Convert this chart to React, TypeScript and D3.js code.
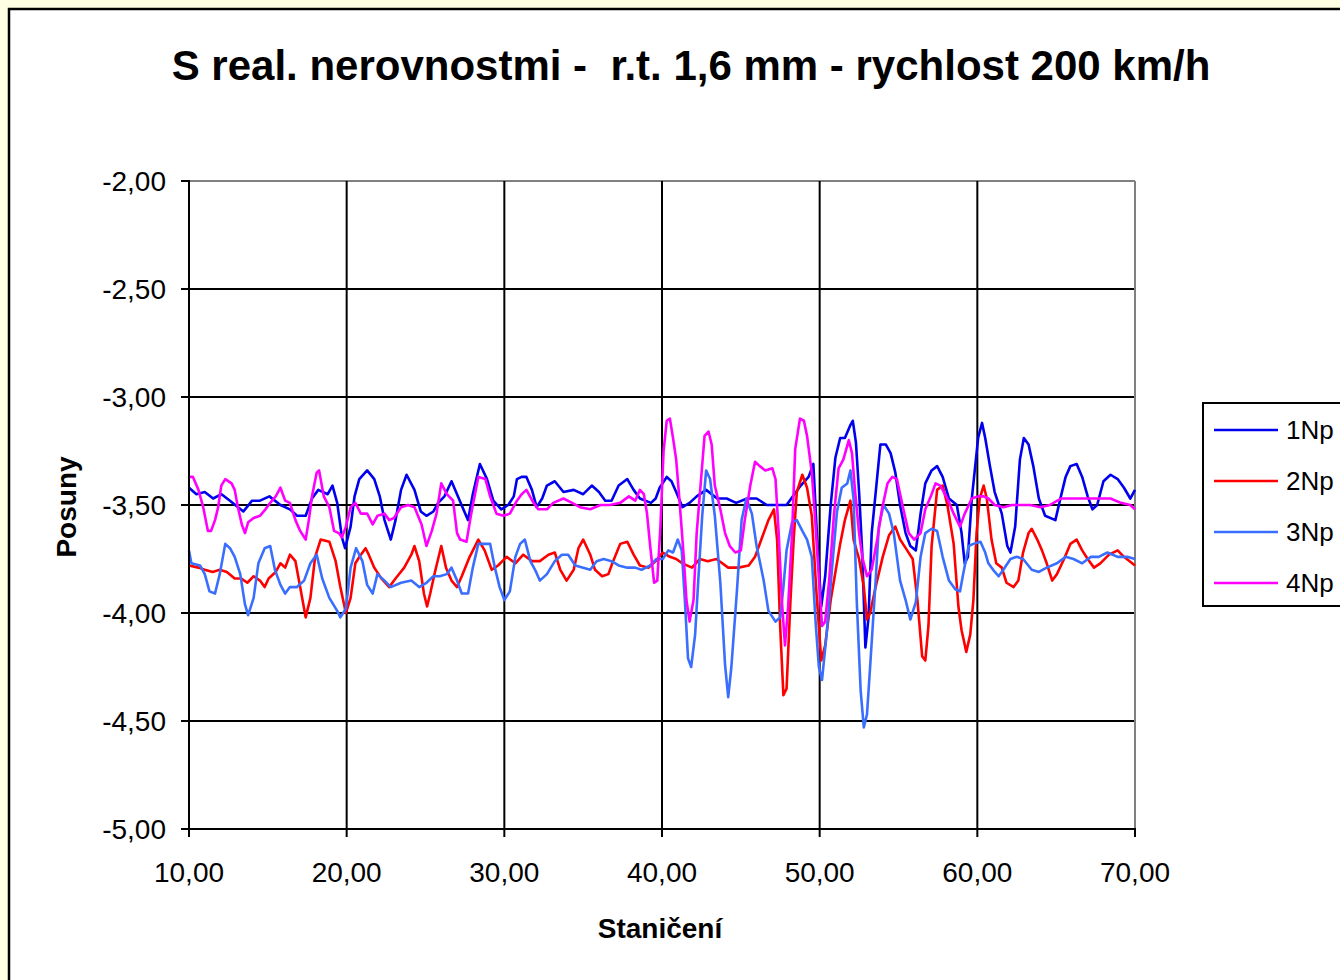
import React from "react";
import * as d3 from "d3";

const seriesNames = ["1Np", "2Np", "3Np", "4Np"];
const seriesColors = ["#0000EE", "#FF0000", "#3A6EFF", "#FF00FF"];
const xTicks = [10, 20, 30, 40, 50, 60, 70];
const yTicks = [-2, -2.5, -3, -3.5, -4, -4.5, -5];

const np1: [number, number][] = [[10,-3.42],[10.47,-3.45],[11.0,-3.44],[11.53,-3.47],[12.06,-3.45],[12.6,-3.48],[13.45,-3.53],[14.0,-3.48],[14.5,-3.48],[15.1,-3.46],[15.8,-3.50],[16.4,-3.52],[16.85,-3.55],[17.4,-3.55],[17.8,-3.47],[18.2,-3.43],[18.8,-3.45],[19.1,-3.41],[19.4,-3.49],[19.7,-3.65],[19.9,-3.70],[20.25,-3.60],[20.5,-3.46],[20.8,-3.38],[21.3,-3.34],[21.75,-3.38],[22.1,-3.46],[22.4,-3.57],[22.8,-3.66],[23.1,-3.57],[23.45,-3.43],[23.8,-3.36],[24.3,-3.43],[24.7,-3.53],[25.06,-3.55],[25.5,-3.53],[25.8,-3.49],[26.2,-3.46],[26.65,-3.39],[27.0,-3.45],[27.4,-3.52],[27.7,-3.57],[28.0,-3.45],[28.45,-3.31],[28.9,-3.38],[29.3,-3.48],[29.8,-3.52],[30.25,-3.50],[30.6,-3.46],[30.8,-3.38],[31.1,-3.37],[31.4,-3.37],[31.75,-3.43],[32.05,-3.51],[32.4,-3.47],[32.7,-3.41],[33.2,-3.39],[33.75,-3.44],[34.4,-3.43],[35.0,-3.45],[35.55,-3.41],[36.0,-3.44],[36.4,-3.48],[36.8,-3.48],[37.25,-3.41],[37.8,-3.38],[38.2,-3.43],[38.6,-3.47],[39.3,-3.49],[39.6,-3.47],[39.85,-3.42],[40.3,-3.37],[40.6,-3.39],[40.9,-3.44],[41.3,-3.51],[41.75,-3.49],[42.2,-3.46],[42.8,-3.43],[43.5,-3.47],[44.1,-3.47],[44.7,-3.49],[45.4,-3.47],[46.0,-3.47],[46.65,-3.50],[47.3,-3.50],[47.9,-3.50],[48.3,-3.46],[48.8,-3.41],[49.3,-3.37],[49.6,-3.31],[49.8,-3.60],[50.1,-3.97],[50.35,-3.83],[50.7,-3.50],[51.0,-3.28],[51.3,-3.19],[51.6,-3.19],[51.95,-3.13],[52.1,-3.11],[52.3,-3.21],[52.5,-3.44],[52.7,-3.72],[52.9,-4.16],[53.1,-4.02],[53.3,-3.63],[53.65,-3.37],[53.85,-3.22],[54.2,-3.22],[54.5,-3.26],[54.8,-3.35],[55.1,-3.50],[55.45,-3.63],[55.75,-3.69],[56.1,-3.71],[56.4,-3.54],[56.7,-3.40],[57.1,-3.34],[57.45,-3.32],[57.8,-3.37],[58.2,-3.47],[58.7,-3.50],[59.0,-3.63],[59.2,-3.77],[59.4,-3.74],[59.65,-3.47],[59.85,-3.33],[60.05,-3.19],[60.3,-3.12],[60.5,-3.19],[60.8,-3.32],[61.1,-3.44],[61.55,-3.54],[61.9,-3.69],[62.1,-3.72],[62.4,-3.60],[62.7,-3.29],[62.95,-3.19],[63.25,-3.22],[63.55,-3.32],[63.9,-3.47],[64.3,-3.55],[64.95,-3.57],[65.3,-3.46],[65.6,-3.37],[65.9,-3.32],[66.3,-3.31],[66.65,-3.37],[67.0,-3.46],[67.3,-3.52],[67.6,-3.50],[68.0,-3.39],[68.45,-3.36],[68.9,-3.38],[69.3,-3.42],[69.7,-3.47],[70.0,-3.43]];

const np2: [number, number][] = [[10,-3.78],[10.6,-3.79],[11.0,-3.80],[11.5,-3.81],[11.95,-3.80],[12.4,-3.81],[12.9,-3.84],[13.3,-3.84],[13.7,-3.86],[14.1,-3.83],[14.5,-3.85],[14.8,-3.88],[15.05,-3.84],[15.5,-3.81],[15.8,-3.77],[16.1,-3.79],[16.4,-3.73],[16.75,-3.76],[17.05,-3.88],[17.4,-4.02],[17.7,-3.93],[18.0,-3.74],[18.35,-3.66],[18.9,-3.67],[19.3,-3.76],[19.6,-3.88],[19.95,-4.00],[20.25,-3.93],[20.55,-3.77],[20.9,-3.73],[21.2,-3.70],[21.4,-3.73],[21.75,-3.79],[22.2,-3.84],[22.7,-3.88],[23.1,-3.84],[23.65,-3.79],[24.1,-3.73],[24.3,-3.69],[24.6,-3.76],[24.9,-3.91],[25.1,-3.97],[25.3,-3.91],[25.6,-3.81],[26.0,-3.69],[26.3,-3.79],[26.65,-3.85],[27.0,-3.88],[27.3,-3.83],[27.8,-3.74],[28.35,-3.66],[28.75,-3.71],[29.2,-3.80],[29.6,-3.78],[30.15,-3.74],[30.7,-3.77],[31.2,-3.73],[31.75,-3.76],[32.25,-3.76],[32.8,-3.73],[33.2,-3.72],[33.55,-3.80],[33.95,-3.85],[34.4,-3.80],[34.7,-3.70],[35.0,-3.66],[35.45,-3.73],[35.75,-3.80],[36.2,-3.83],[36.6,-3.82],[36.9,-3.76],[37.35,-3.68],[37.8,-3.67],[38.2,-3.73],[38.6,-3.78],[39.15,-3.79],[39.6,-3.76],[40.05,-3.72],[40.5,-3.74],[40.9,-3.75],[41.3,-3.77],[41.9,-3.79],[42.4,-3.75],[42.9,-3.76],[43.45,-3.75],[44.2,-3.79],[44.85,-3.79],[45.5,-3.78],[45.9,-3.74],[46.3,-3.66],[46.75,-3.57],[47.1,-3.52],[47.3,-3.66],[47.5,-4.07],[47.7,-4.38],[47.9,-4.35],[48.15,-3.94],[48.35,-3.66],[48.55,-3.44],[48.9,-3.36],[49.2,-3.42],[49.5,-3.55],[49.8,-3.91],[50.1,-4.22],[50.35,-4.15],[50.7,-3.94],[51.0,-3.81],[51.3,-3.68],[51.6,-3.57],[51.95,-3.48],[52.15,-3.66],[52.5,-3.75],[52.8,-3.88],[53.0,-4.03],[53.2,-4.00],[53.55,-3.88],[54.0,-3.74],[54.4,-3.64],[54.8,-3.60],[55.1,-3.66],[55.55,-3.71],[55.9,-3.75],[56.2,-3.94],[56.5,-4.20],[56.7,-4.22],[56.9,-4.06],[57.1,-3.69],[57.45,-3.43],[57.8,-3.41],[58.1,-3.50],[58.5,-3.68],[58.8,-3.97],[59.0,-4.08],[59.3,-4.18],[59.55,-4.10],[59.75,-3.94],[59.95,-3.63],[60.15,-3.47],[60.4,-3.41],[60.6,-3.47],[60.9,-3.66],[61.2,-3.77],[61.55,-3.79],[61.85,-3.86],[62.3,-3.88],[62.6,-3.85],[62.9,-3.72],[63.25,-3.63],[63.45,-3.61],[63.8,-3.66],[64.1,-3.71],[64.4,-3.77],[64.75,-3.85],[65.05,-3.82],[65.5,-3.75],[65.9,-3.68],[66.3,-3.66],[66.65,-3.71],[67.0,-3.75],[67.4,-3.79],[67.8,-3.77],[68.35,-3.73],[68.9,-3.71],[69.3,-3.74],[70.0,-3.78]];

const np3: [number, number][] = [[10,-3.71],[10.15,-3.77],[10.7,-3.78],[11.0,-3.82],[11.3,-3.90],[11.65,-3.91],[11.95,-3.82],[12.3,-3.68],[12.6,-3.70],[12.9,-3.74],[13.25,-3.82],[13.55,-3.96],[13.75,-4.01],[14.1,-3.93],[14.4,-3.77],[14.8,-3.70],[15.15,-3.69],[15.45,-3.80],[15.8,-3.87],[16.1,-3.91],[16.4,-3.88],[16.85,-3.88],[17.3,-3.85],[17.7,-3.77],[18.1,-3.73],[18.45,-3.84],[18.9,-3.93],[19.4,-3.99],[19.6,-4.02],[19.95,-3.98],[20.25,-3.79],[20.6,-3.70],[21.0,-3.76],[21.3,-3.87],[21.65,-3.91],[21.95,-3.82],[22.4,-3.85],[22.8,-3.88],[23.45,-3.86],[24.1,-3.85],[24.6,-3.88],[25.06,-3.86],[25.5,-3.83],[25.9,-3.83],[26.35,-3.82],[26.65,-3.79],[27.0,-3.85],[27.3,-3.91],[27.7,-3.91],[28.0,-3.79],[28.35,-3.68],[28.8,-3.68],[29.1,-3.68],[29.4,-3.79],[29.7,-3.88],[30.0,-3.94],[30.35,-3.90],[30.7,-3.74],[31.0,-3.68],[31.3,-3.66],[31.65,-3.76],[31.95,-3.80],[32.25,-3.85],[32.7,-3.82],[33.2,-3.76],[33.65,-3.73],[34.05,-3.73],[34.5,-3.78],[35.0,-3.79],[35.45,-3.80],[35.85,-3.76],[36.3,-3.75],[36.8,-3.76],[37.25,-3.78],[37.8,-3.79],[38.3,-3.79],[38.7,-3.80],[39.25,-3.78],[39.65,-3.75],[40.05,-3.75],[40.4,-3.71],[40.7,-3.72],[41.0,-3.66],[41.25,-3.71],[41.45,-3.94],[41.65,-4.21],[41.85,-4.25],[42.1,-4.10],[42.3,-3.85],[42.55,-3.55],[42.8,-3.34],[43.05,-3.38],[43.35,-3.55],[43.7,-3.86],[44.0,-4.24],[44.2,-4.39],[44.4,-4.25],[44.75,-3.90],[45.05,-3.57],[45.35,-3.47],[45.7,-3.54],[46.0,-3.69],[46.45,-3.85],[46.75,-3.99],[47.2,-4.04],[47.5,-4.02],[47.7,-3.88],[47.9,-3.71],[48.25,-3.58],[48.55,-3.57],[48.9,-3.62],[49.2,-3.66],[49.5,-3.74],[49.75,-4.05],[49.95,-4.25],[50.15,-4.31],[50.45,-4.09],[50.8,-3.78],[51.1,-3.53],[51.4,-3.42],[51.75,-3.40],[51.95,-3.34],[52.15,-3.47],[52.35,-3.94],[52.6,-4.36],[52.8,-4.53],[53.0,-4.47],[53.2,-4.25],[53.55,-3.85],[53.75,-3.60],[54.05,-3.50],[54.4,-3.54],[54.7,-3.63],[55.1,-3.85],[55.45,-3.94],[55.75,-4.03],[56.1,-3.95],[56.4,-3.74],[56.7,-3.63],[57.1,-3.61],[57.45,-3.62],[57.8,-3.74],[58.2,-3.85],[58.6,-3.89],[58.9,-3.90],[59.1,-3.82],[59.45,-3.69],[59.75,-3.68],[60.2,-3.67],[60.5,-3.72],[60.7,-3.77],[61.0,-3.80],[61.35,-3.83],[61.65,-3.80],[62.1,-3.75],[62.5,-3.74],[62.9,-3.75],[63.45,-3.80],[63.9,-3.81],[64.4,-3.79],[65.05,-3.77],[65.6,-3.74],[66.1,-3.75],[66.65,-3.77],[67.2,-3.74],[67.7,-3.74],[68.25,-3.72],[68.9,-3.74],[69.5,-3.74],[70.0,-3.75]];

const np4: [number, number][] = [[10,-3.37],[10.25,-3.37],[10.6,-3.43],[10.9,-3.51],[11.2,-3.62],[11.4,-3.62],[11.65,-3.57],[11.85,-3.51],[12.05,-3.41],[12.3,-3.38],[12.7,-3.40],[12.9,-3.43],[13.1,-3.51],[13.35,-3.59],[13.55,-3.63],[13.75,-3.58],[14.1,-3.56],[14.5,-3.55],[14.85,-3.52],[15.15,-3.49],[15.5,-3.46],[15.8,-3.42],[16.1,-3.48],[16.4,-3.49],[16.75,-3.57],[17.05,-3.62],[17.4,-3.66],[17.6,-3.57],[17.8,-3.46],[18.1,-3.35],[18.25,-3.34],[18.55,-3.46],[18.9,-3.51],[19.2,-3.62],[19.5,-3.63],[19.7,-3.65],[19.95,-3.60],[20.25,-3.51],[20.55,-3.49],[20.9,-3.54],[21.3,-3.54],[21.65,-3.59],[21.95,-3.55],[22.4,-3.54],[22.7,-3.57],[23.0,-3.56],[23.45,-3.51],[23.9,-3.50],[24.3,-3.51],[24.75,-3.59],[25.06,-3.69],[25.4,-3.62],[25.7,-3.54],[26.0,-3.40],[26.35,-3.45],[26.75,-3.48],[27.0,-3.63],[27.2,-3.66],[27.6,-3.67],[27.9,-3.54],[28.35,-3.37],[28.8,-3.38],[29.1,-3.46],[29.5,-3.54],[29.95,-3.55],[30.35,-3.54],[30.8,-3.48],[31.1,-3.45],[31.4,-3.43],[31.85,-3.49],[32.15,-3.52],[32.7,-3.52],[33.1,-3.49],[33.75,-3.47],[34.3,-3.49],[34.8,-3.51],[35.45,-3.52],[36.1,-3.50],[36.7,-3.50],[37.35,-3.49],[37.9,-3.46],[38.3,-3.48],[38.6,-3.43],[38.85,-3.45],[39.05,-3.54],[39.25,-3.69],[39.5,-3.86],[39.7,-3.85],[39.9,-3.60],[40.1,-3.25],[40.3,-3.11],[40.5,-3.10],[40.7,-3.19],[40.9,-3.29],[41.1,-3.47],[41.35,-3.71],[41.55,-3.94],[41.75,-4.04],[42.0,-3.94],[42.2,-3.63],[42.5,-3.36],[42.7,-3.18],[42.95,-3.16],[43.15,-3.22],[43.35,-3.41],[43.7,-3.52],[44.0,-3.63],[44.3,-3.69],[44.65,-3.72],[45.0,-3.71],[45.25,-3.57],[45.6,-3.41],[45.9,-3.30],[46.2,-3.32],[46.55,-3.34],[47.0,-3.33],[47.2,-3.38],[47.4,-3.63],[47.6,-3.94],[47.8,-4.15],[48.0,-3.97],[48.25,-3.63],[48.45,-3.24],[48.75,-3.10],[49.0,-3.11],[49.2,-3.18],[49.5,-3.35],[49.7,-3.55],[49.95,-3.84],[50.15,-4.06],[50.35,-4.04],[50.6,-3.85],[50.9,-3.55],[51.2,-3.33],[51.5,-3.29],[51.85,-3.20],[52.05,-3.26],[52.25,-3.44],[52.5,-3.63],[52.7,-3.74],[53.0,-3.83],[53.3,-3.80],[53.65,-3.66],[53.95,-3.52],[54.3,-3.40],[54.6,-3.37],[54.9,-3.38],[55.25,-3.50],[55.65,-3.63],[56.0,-3.66],[56.4,-3.63],[56.7,-3.52],[57.05,-3.46],[57.35,-3.40],[57.65,-3.41],[58.1,-3.47],[58.5,-3.54],[58.9,-3.60],[59.2,-3.54],[59.65,-3.47],[60.05,-3.46],[60.4,-3.46],[60.7,-3.47],[61.1,-3.50],[61.65,-3.51],[62.2,-3.50],[62.7,-3.50],[63.35,-3.50],[64.0,-3.51],[64.6,-3.50],[65.3,-3.47],[65.9,-3.47],[66.55,-3.47],[67.2,-3.47],[67.8,-3.47],[68.45,-3.47],[69.1,-3.49],[69.7,-3.50],[70.0,-3.52]];

const allSeries = [np1, np2, np3, np4];

const fmt = (v: number) => v.toFixed(2).replace(".", ",");
const FONT = "'Liberation Sans', Arial, sans-serif";

export default function App() {
  const W = 1340, H = 980;
  const x = d3.scaleLinear().domain([10, 70]).range([189, 1135]);
  const y = d3.scaleLinear().domain([-5, -2]).range([829, 181]);
  const line = d3.line<[number, number]>().x(d => x(d[0])).y(d => y(d[1])).curve(d3.curveLinear);

  return (
    <svg width={W} height={H} style={{ position: "absolute", left: 0, top: 0, display: "block" }}>
      <rect x={0} y={0} width={W} height={H} fill="#FFFFE3" />
      <rect x={9} y={9} width={W + 10} height={H + 10} fill="#FFFFFF" stroke="#000" strokeWidth={2.5} />

      <text x={691} y={80} textAnchor="middle" fontFamily={FONT} fontWeight="bold" fontSize={42} style={{ whiteSpace: "pre" }}>
        {"S real. nerovnostmi -  r.t. 1,6 mm - rychlost 200 km/h"}
      </text>

      {yTicks.filter(t => t > -5 && t < -2).map(t => (
        <line key={"hg" + t} x1={x(10)} x2={x(70)} y1={y(t)} y2={y(t)} stroke="#000" strokeWidth={2} />
      ))}
      <line x1={x(10)} x2={x(70)} y1={y(-2)} y2={y(-2)} stroke="#808080" strokeWidth={2} />
      {xTicks.filter(t => t > 10 && t < 70).map(t => (
        <line key={"vg" + t} x1={x(t)} x2={x(t)} y1={y(-2)} y2={y(-5)} stroke="#000" strokeWidth={2} />
      ))}
      <line x1={x(70)} x2={x(70)} y1={y(-2)} y2={y(-5)} stroke="#808080" strokeWidth={2} />

      {allSeries.map((s, i) => (
        <path key={seriesNames[i]} d={line(s) || ""} fill="none" stroke={seriesColors[i]} strokeWidth={2.6} strokeLinejoin="round" />
      ))}

      <line x1={x(10)} x2={x(10)} y1={y(-2) - 1} y2={y(-5) + 1} stroke="#000" strokeWidth={2} />
      <line x1={x(10) - 1} x2={x(70) + 1} y1={y(-5)} y2={y(-5)} stroke="#000" strokeWidth={2} />
      {yTicks.map(t => (
        <g key={"yt" + t}>
          <line x1={x(10) - 8} x2={x(10)} y1={y(t)} y2={y(t)} stroke="#000" strokeWidth={2} />
          <text x={166} y={y(t)} dy="0.36em" textAnchor="end" fontFamily={FONT} fontSize={28}>{fmt(t)}</text>
        </g>
      ))}
      {xTicks.map(t => (
        <g key={"xt" + t}>
          <line x1={x(t)} x2={x(t)} y1={y(-5)} y2={y(-5) + 8} stroke="#000" strokeWidth={2} />
          <text x={x(t)} y={882} textAnchor="middle" fontFamily={FONT} fontSize={28}>{fmt(t)}</text>
        </g>
      ))}

      <text x={660} y={938} textAnchor="middle" fontFamily={FONT} fontWeight="bold" fontSize={28}>Staničení</text>
      <text transform="translate(76,507) rotate(-90)" textAnchor="middle" fontFamily={FONT} fontWeight="bold" fontSize={28}>Posuny</text>

      <rect x={1203} y={403} width={160} height={203} fill="#fff" stroke="#000" strokeWidth={2} />
      {seriesNames.map((n, i) => (
        <g key={"lg" + n}>
          <line x1={1214} x2={1278} y1={430 + i * 51} y2={430 + i * 51} stroke={seriesColors[i]} strokeWidth={2.5} />
          <text x={1286} y={430 + i * 51} dy="0.36em" fontFamily={FONT} fontSize={26}>{n}</text>
        </g>
      ))}
    </svg>
  );
}
